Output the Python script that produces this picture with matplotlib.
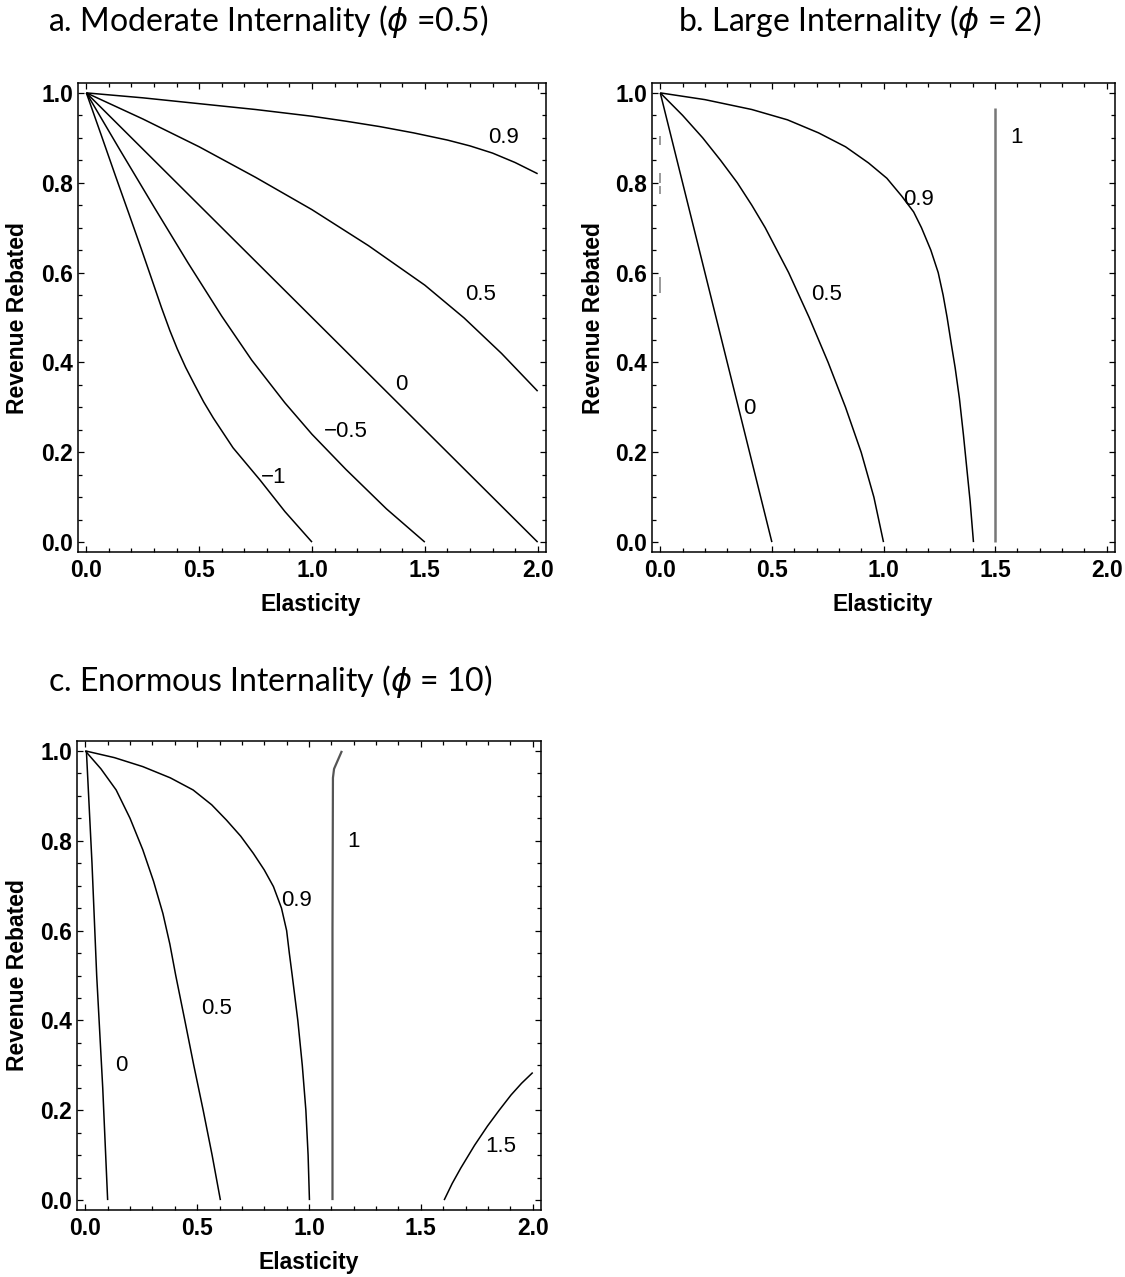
import matplotlib
matplotlib.use("Agg")
import matplotlib.pyplot as plt
from matplotlib.ticker import MultipleLocator

W, H = 1125, 1277

# ---- panel a: moderate internality (phi = 0.5) ----
a_neg1_x = [0.0, 0.066, 0.132, 0.19, 0.244, 0.29, 0.333, 0.37, 0.403, 0.44, 0.48, 0.52,
            0.563, 0.65, 0.77, 0.88, 1.0]
a_neg1_y = [1.0, 0.906, 0.811, 0.729, 0.652, 0.585, 0.522, 0.471, 0.43, 0.389, 0.35, 0.312,
            0.276, 0.21, 0.138, 0.068, 0.0]
a_neg05_x = [0.0, 0.15, 0.30, 0.45, 0.60, 0.733, 0.88, 1.0, 1.15, 1.33, 1.5]
a_neg05_y = [1.0, 0.872, 0.746, 0.622, 0.503, 0.405, 0.31, 0.24, 0.162, 0.074, 0.0]
a_zero_x = [0.0, 0.5, 1.0, 1.5, 2.0]
a_zero_y = [1.0, 0.75, 0.5, 0.25, 0.0]
a_p05_x = [0.0, 0.25, 0.5, 0.75, 1.0, 1.25, 1.5, 1.674, 1.84, 1.92, 2.0]
a_p05_y = [1.0, 0.942, 0.88, 0.812, 0.74, 0.66, 0.572, 0.499, 0.42, 0.378, 0.336]
a_p09_x = [0.0, 0.25, 0.5, 0.75, 1.0, 1.15, 1.3, 1.45, 1.6, 1.7, 1.8, 1.9, 2.0]
a_p09_y = [1.0, 0.989, 0.976, 0.963, 0.948, 0.937, 0.925, 0.911, 0.895, 0.882, 0.866, 0.845, 0.820]
a_labels = ["0.9", "0.5", "0", "\u22120.5", "\u22121"]
a_label_x = [1.847, 1.748, 1.397, 1.148, 0.83]
a_label_y = [0.90, 0.551, 0.35, 0.246, 0.143]

# ---- panel b: large internality (phi = 2) ----
b_zero_x = [0.0, 0.125, 0.25, 0.375, 0.5]
b_zero_y = [1.0, 0.75, 0.5, 0.25, 0.0]
b_p05_x = [0.0, 0.1, 0.19, 0.27, 0.345, 0.41, 0.47, 0.575, 0.667, 0.752, 0.83, 0.9, 0.957, 1.0]
b_p05_y = [1.0, 0.95, 0.9, 0.85, 0.8, 0.75, 0.7, 0.6, 0.5, 0.4, 0.3, 0.2, 0.1, 0.0]
b_p09_x = [0.0, 0.2, 0.41, 0.57, 0.709, 0.83, 0.933, 1.015, 1.082, 1.135, 1.17, 1.212,
           1.245, 1.267, 1.285, 1.304, 1.321, 1.34, 1.358, 1.374, 1.388, 1.403]
b_p09_y = [1.0, 0.985, 0.963, 0.94, 0.911, 0.88, 0.844, 0.81, 0.77, 0.735, 0.70, 0.65,
           0.60, 0.55, 0.50, 0.44, 0.388, 0.32, 0.239, 0.16, 0.091, 0.0]
b_one_x = [1.5, 1.5]
b_one_y = [0.0, 0.967]
# stray contour fragments along the left edge
b_bits_y = [(0.903, 0.884), (0.822, 0.80), (0.793, 0.775), (0.591, 0.554)]
b_labels = ["0", "0.5", "0.9", "1"]
b_label_x = [0.399, 0.746, 1.157, 1.597]
b_label_y = [0.298, 0.551, 0.762, 0.90]

# ---- panel c: enormous internality (phi = 10) ----
c_zero_x = [0.005, 0.03, 0.051, 0.078, 0.1]
c_zero_y = [1.0, 0.75, 0.5, 0.25, 0.0]
c_p05_x = [0.0, 0.07, 0.138, 0.2, 0.257, 0.305, 0.347, 0.378, 0.404, 0.445, 0.485, 0.527,
           0.567, 0.604]
c_p05_y = [1.0, 0.96, 0.913, 0.85, 0.78, 0.71, 0.638, 0.57, 0.501, 0.4, 0.3, 0.2, 0.1, 0.0]
c_p09_x = [0.0, 0.13, 0.257, 0.38, 0.482, 0.565, 0.631, 0.695, 0.751, 0.80, 0.841, 0.877,
           0.9, 0.912, 0.925, 0.95, 0.97, 0.986, 0.996, 1.002]
c_p09_y = [1.0, 0.985, 0.965, 0.94, 0.913, 0.88, 0.846, 0.81, 0.772, 0.735, 0.698, 0.65,
           0.6, 0.55, 0.5, 0.4, 0.3, 0.2, 0.1, 0.0]
c_one_x = [1.105, 1.105, 1.107, 1.112, 1.147]
c_one_y = [0.0, 0.6, 0.94, 0.96, 1.0]
c_p15_x = [1.604, 1.64, 1.678, 1.74, 1.798, 1.85, 1.903, 1.95, 2.0]
c_p15_y = [0.0, 0.037, 0.071, 0.122, 0.165, 0.2, 0.234, 0.26, 0.284]
c_labels = ["0", "0.5", "0.9", "1", "1.5"]
c_label_x = [0.16, 0.586, 0.945, 1.2, 1.855]
c_label_y = [0.30, 0.427, 0.668, 0.798, 0.119]

TICK_FONT = dict(family="Liberation Sans", weight="bold", size=16.5)
LABEL_FONT = dict(family="Liberation Sans", weight="bold", size=16.5)
TITLE_FONT = dict(family=["Lato", "DejaVu Sans"], size=23)


def style_axes(ax):
    ax.set_xlim(-0.037, 2.037)
    ax.set_ylim(-0.022, 1.022)
    ax.xaxis.set_major_locator(MultipleLocator(0.5))
    ax.xaxis.set_minor_locator(MultipleLocator(0.1))
    ax.yaxis.set_major_locator(MultipleLocator(0.2))
    ax.yaxis.set_minor_locator(MultipleLocator(0.05))
    ax.tick_params(which="both", direction="in", top=True, right=True, width=0.9)
    ax.tick_params(which="major", length=4.5)
    ax.tick_params(which="minor", length=2.6)
    ax.tick_params(axis="x", pad=5)
    ax.tick_params(axis="y", pad=3.5)
    ax.set_xticklabels([f"{v:.1f}" for v in ax.get_xticks()], fontdict=TICK_FONT)
    ax.set_yticklabels([f"{v:.1f}" for v in ax.get_yticks()], fontdict=TICK_FONT)
    for s in ax.spines.values():
        s.set_linewidth(1.1)


def put_labels(ax, texts, xs, ys):
    for t, x, y in zip(texts, xs, ys):
        ax.text(x, y, t, ha="center", va="center", family="Liberation Sans", size=16)


def curve(ax, x, y, color="black", lw=1.1):
    ax.plot(x, y, color=color, lw=lw, solid_capstyle="butt", solid_joinstyle="round")


fig = plt.figure(figsize=(W / 100, H / 100), dpi=100)

ax_a = fig.add_axes([78 / W, 1 - 552 / H, 468 / W, 469 / H])
ax_b = fig.add_axes([652 / W, 1 - 552 / H, 463 / W, 469 / H])
ax_c = fig.add_axes([77 / W, 1 - 1210 / H, 464 / W, 469 / H])

for ax in (ax_a, ax_b, ax_c):
    ax.set_xticks([0, 0.5, 1.0, 1.5, 2.0])
    ax.set_yticks([0, 0.2, 0.4, 0.6, 0.8, 1.0])
    style_axes(ax)

curve(ax_a, a_neg1_x, a_neg1_y)
curve(ax_a, a_neg05_x, a_neg05_y)
curve(ax_a, a_zero_x, a_zero_y)
curve(ax_a, a_p05_x, a_p05_y)
curve(ax_a, a_p09_x, a_p09_y)
put_labels(ax_a, a_labels, a_label_x, a_label_y)

curve(ax_b, b_zero_x, b_zero_y)
curve(ax_b, b_p05_x, b_p05_y)
curve(ax_b, b_p09_x, b_p09_y)
curve(ax_b, b_one_x, b_one_y, color="#777777", lw=1.8)
for y0, y1 in b_bits_y:
    curve(ax_b, [0.0, 0.0], [y0, y1], color="#888888", lw=1.2)
put_labels(ax_b, b_labels, b_label_x, b_label_y)

curve(ax_c, c_zero_x, c_zero_y)
curve(ax_c, c_p05_x, c_p05_y)
curve(ax_c, c_p09_x, c_p09_y)
curve(ax_c, c_one_x, c_one_y, color="#555555", lw=1.6)
curve(ax_c, c_p15_x, c_p15_y)
put_labels(ax_c, c_labels, c_label_x, c_label_y)

# titles
fig.text(48 / W, 1 - 22 / H, r"a. Moderate Internality ($\phi$ =0.5)", ha="left", va="center", **TITLE_FONT)
fig.text(678 / W, 1 - 22 / H, r"b. Large Internality ($\phi$ = 2)", ha="left", va="center", **TITLE_FONT)
fig.text(48 / W, 1 - 682 / H, r"c. Enormous Internality ($\phi$ = 10)", ha="left", va="center", **TITLE_FONT)

# axis labels
fig.text(311 / W, 1 - 604 / H, "Elasticity", ha="center", va="center", **LABEL_FONT)
fig.text(883 / W, 1 - 604 / H, "Elasticity", ha="center", va="center", **LABEL_FONT)
fig.text(309 / W, 1 - 1262 / H, "Elasticity", ha="center", va="center", **LABEL_FONT)
fig.text(18 / W, 1 - 318 / H, "Revenue Rebated", ha="center", va="center", rotation=90, **LABEL_FONT)
fig.text(593 / W, 1 - 318 / H, "Revenue Rebated", ha="center", va="center", rotation=90, **LABEL_FONT)
fig.text(18 / W, 1 - 975 / H, "Revenue Rebated", ha="center", va="center", rotation=90, **LABEL_FONT)

fig.savefig("out.png", dpi=100)
